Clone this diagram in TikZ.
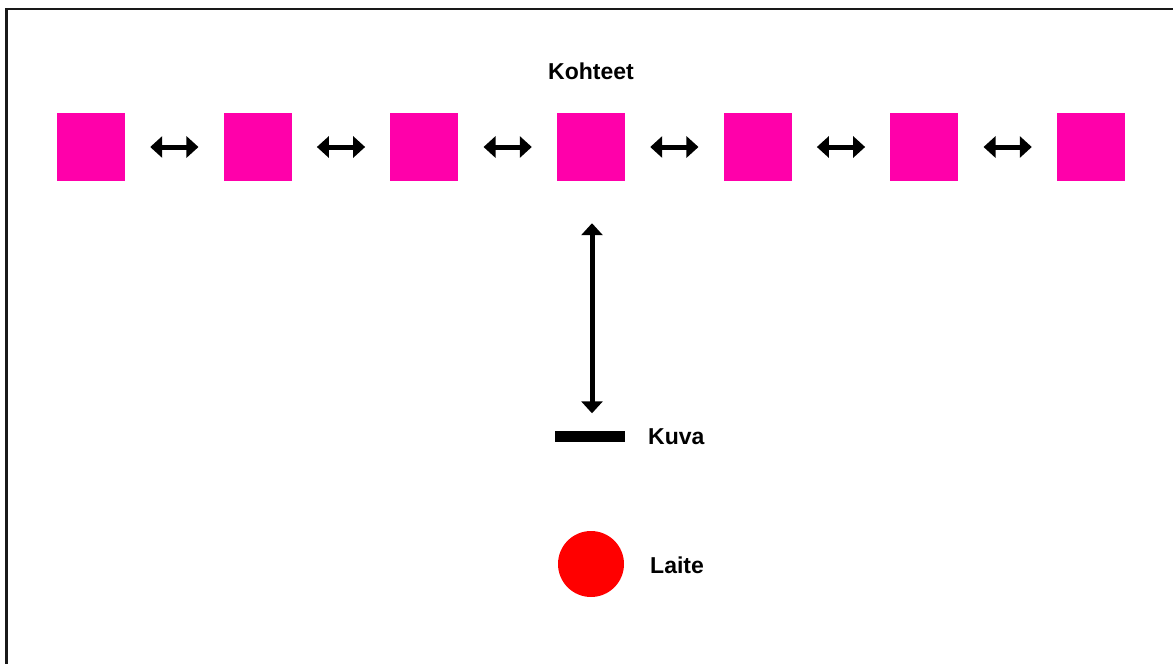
\documentclass[tikz,border=0pt]{standalone}
\usepackage{fontspec}
\setmainfont{Liberation Sans}
\usetikzlibrary{arrows.meta}
\definecolor{sqpink}{RGB}{255,0,170}
\definecolor{dotred}{RGB}{255,0,0}
\tikzset{
  sqbox/.style={rectangle, fill=sqpink, draw=none, minimum width=68pt, minimum height=68pt, inner sep=0pt},
  barbox/.style={rectangle, fill=black, draw=none, minimum width=70pt, minimum height=11pt, inner sep=0pt},
  dotnode/.style={circle, fill=dotred, draw=none, minimum size=66pt, inner sep=0pt},
  lbl/.style={font=\fontsize{23}{27}\selectfont\bfseries, inner sep=0pt},
  dblarrow/.style={line width=5pt, {Triangle[width=21pt,length=12pt]}-{Triangle[width=21pt,length=12pt]}},
  frameline/.style={line width=2.5pt, black!90}
}
\begin{document}
\begin{tikzpicture}[x=1pt,y=-1pt]
\useasboundingbox (0,0) rectangle (1173,664);
\fill[white] (0,0) rectangle (1173,664);
\draw[frameline] (6.5,664) -- (6.5,9) -- (1173,9);
\foreach \i in {0,...,6} {
  \node[sqbox] (s\i) at ({91+166.667*\i},147) {};
}
\foreach \i/\j in {0/1,1/2,2/3,3/4,4/5,5/6} {
  \draw[dblarrow, shorten <=25pt, shorten >=25pt] (s\i.east) -- (s\j.west);
}
\node[lbl, anchor=base] (kohteet) at (591,79) {Kohteet};
\node[barbox] (bar) at (590,436) {};
\node[lbl, anchor=base west] (kuva) at (648,444) {Kuva};
\node[dotnode] (dot) at (591,564) {};
\node[lbl, anchor=base west] (laite) at (650,573) {Laite};
\coordinate (vtop) at (592,181);
\coordinate (vbot) at (592,430);
\draw[dblarrow, shorten <=42pt, shorten >=17pt] (s3.south -| vtop) -- (bar.north -| vbot);
\end{tikzpicture}
\end{document}
